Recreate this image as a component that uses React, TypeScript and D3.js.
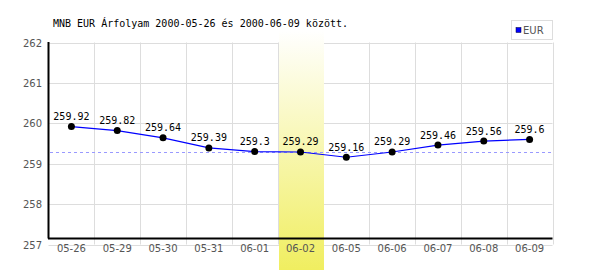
import React from "react";
import * as d3 from "d3";

const categories = ["05-26", "05-29", "05-30", "05-31", "06-01", "06-02", "06-05", "06-06", "06-07", "06-08", "06-09"];
const eurValues = [259.92, 259.82, 259.64, 259.39, 259.3, 259.29, 259.16, 259.29, 259.46, 259.56, 259.6];
const valueLabels = ["259.92", "259.82", "259.64", "259.39", "259.3", "259.29", "259.16", "259.29", "259.46", "259.56", "259.6"];
const yTicks = [257, 258, 259, 260, 261, 262];
const highlightCategory = "06-02";
const referenceValue = 259.29;
const title = "MNB EUR Árfolyam 2000-05-26 és 2000-06-09 között.";
const seriesName = "EUR";

export default function App() {
  const W = 600, H = 270;
  const left = 48.5, right = 552.5;
  const x = d3.scaleBand<string>().domain(categories).range([left, right]);
  const y = d3.scaleLinear().domain([257, 262]).range([244.5, 42.5]);
  const axisY = 238.5;
  const line = d3.line<number>()
    .x((_, i) => (x(categories[i]) as number) + x.bandwidth() / 2)
    .y((d) => y(d));
  const hx = x(highlightCategory) as number;
  const mono = "'DejaVu Sans Mono', monospace";
  const sans = "'DejaVu Sans', sans-serif";
  return (
    <svg width={W} height={H} style={{ position: "absolute", left: 0, top: 0, background: "#fff" }}>
      <defs>
        <linearGradient id="hl" x1="0" y1="0" x2="0" y2="1">
          <stop offset="0" stopColor="#ffffff" />
          <stop offset="1" stopColor="#f0ee60" />
        </linearGradient>
      </defs>
      <rect x={0} y={0} width={W} height={H} fill="#fff" />
      {/* horizontal gridlines */}
      {yTicks.map((t) => (
        <line key={"h" + t} x1={left} x2={right} y1={Math.round(y(t)) + 0.5} y2={Math.round(y(t)) + 0.5} stroke="#dddddd" strokeWidth={1} />
      ))}
      {/* vertical gridlines */}
      {categories.map((c) => (
        <line key={"v" + c} x1={Math.round((x(c) as number) + x.bandwidth()) + 0.5} x2={Math.round((x(c) as number) + x.bandwidth()) + 0.5} y1={42.5} y2={244.5} stroke="#dddddd" strokeWidth={1} />
      ))}
      {/* highlight band */}
      <rect x={Math.round(hx) + 1} y={30} width={Math.round(x.bandwidth()) - 1} height={H - 30} fill="url(#hl)" />
      {/* axes */}
      <line x1={48.5} x2={48.5} y1={42} y2={axisY} stroke="#000" strokeWidth={2} />
      <line x1={48} x2={right} y1={axisY} y2={axisY} stroke="#000" strokeWidth={2} />
      {/* reference dashed line */}
      <line x1={50} x2={right} y1={Math.round(y(referenceValue)) + 0.5} y2={Math.round(y(referenceValue)) + 0.5} stroke="#9999ff" strokeWidth={1} strokeDasharray="3,3" />
      {/* y tick labels */}
      {yTicks.map((t) => (
        <text key={"yl" + t} x={42} y={y(t) + 4} textAnchor="end" fontFamily={sans} fontSize={10} fill="#555">{t}</text>
      ))}
      {/* x tick labels */}
      {categories.map((c) => (
        <text key={"xl" + c} x={(x(c) as number) + x.bandwidth() / 2} y={252} textAnchor="middle" fontFamily={sans} fontSize={10} fill="#555">{c}</text>
      ))}
      {/* series line */}
      <path d={line(eurValues) as string} fill="none" stroke="#0000ff" strokeWidth={1.2} />
      {eurValues.map((v, i) => {
        const cx = (x(categories[i]) as number) + x.bandwidth() / 2;
        return (
          <g key={"p" + i}>
            <circle cx={cx} cy={y(v)} r={3.5} fill="#000" />
            <text x={cx} y={y(v) - 6.5} textAnchor="middle" fontFamily={mono} fontSize={10} fill="#000">{valueLabels[i]}</text>
          </g>
        );
      })}
      {/* title */}
      <text x={53} y={27} fontFamily={mono} fontSize={10} fill="#000">{title}</text>
      {/* legend */}
      <rect x={511.5} y={20.5} width={41} height={19} fill="#fff" stroke="#dddddd" strokeWidth={1} />
      <rect x={516} y={27.5} width={5} height={5} fill="#0000ff" stroke="#000033" strokeWidth={0.5} />
      <text x={523} y={34} fontFamily={sans} fontSize={10} fill="#555">{seriesName}</text>
    </svg>
  );
}
